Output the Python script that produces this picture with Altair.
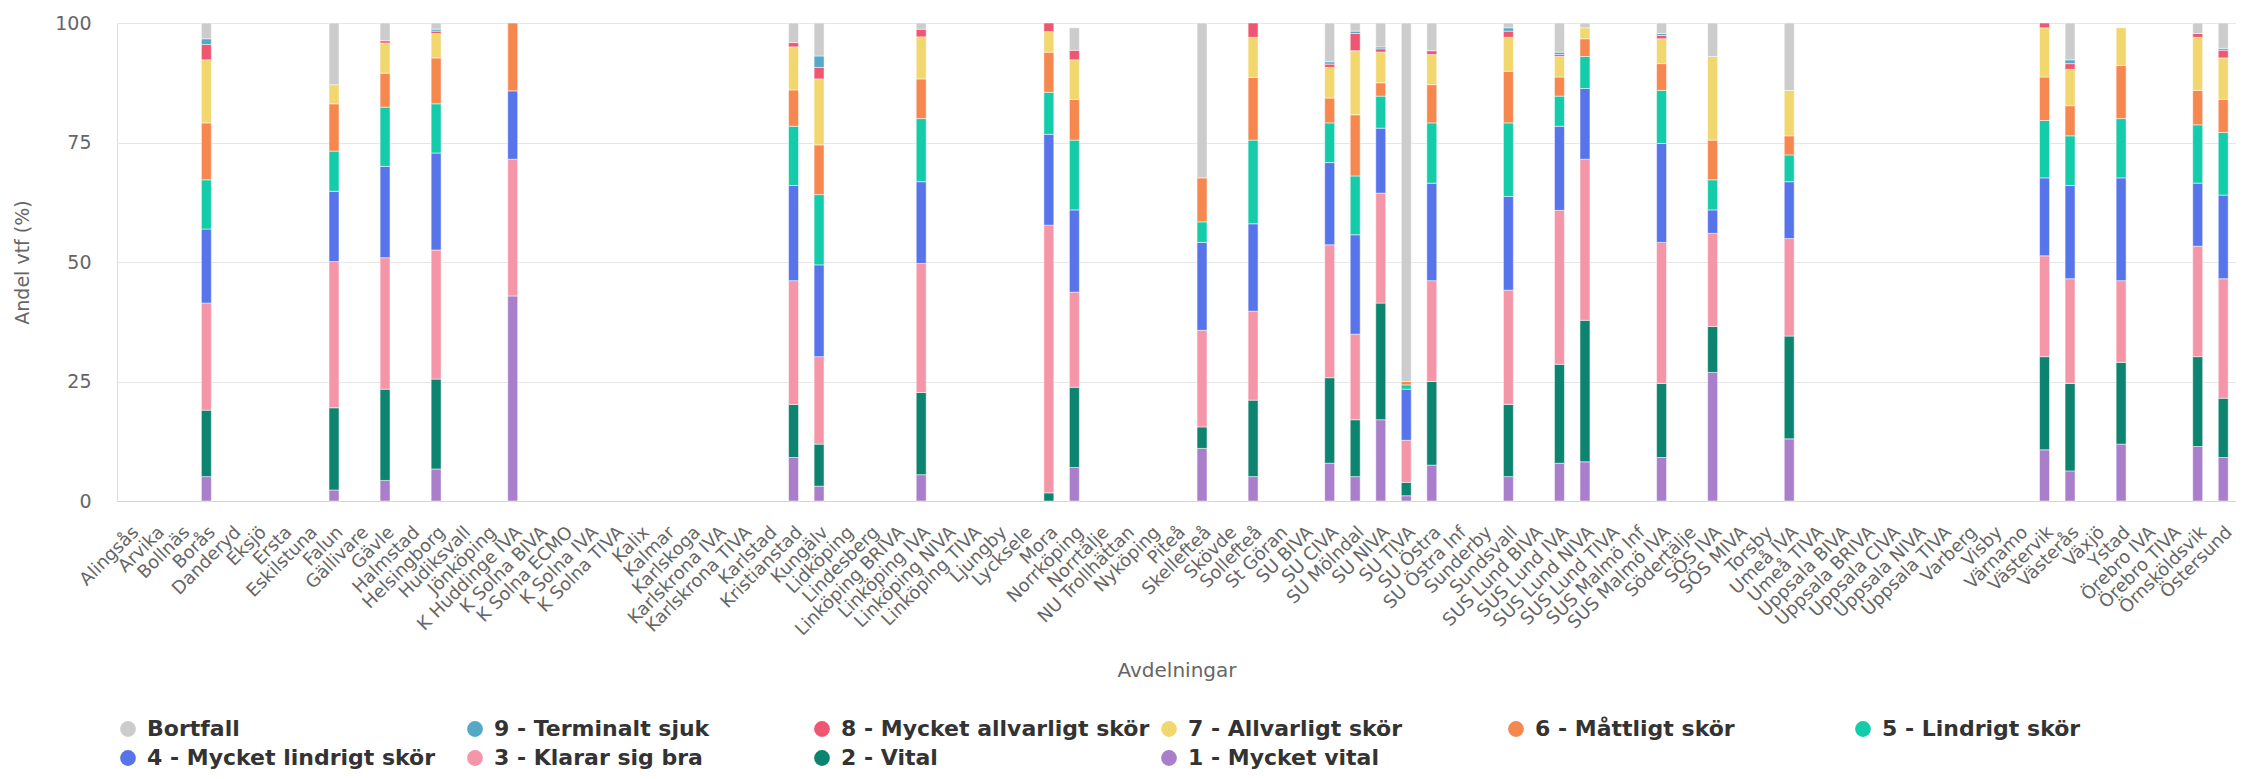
import altair as alt
import pandas as pd

departments = [
    "Alingsås", "Arvika", "Bollnäs", "Borås", "Danderyd", "Eksjö", "Ersta", "Eskilstuna",
    "Falun", "Gällivare", "Gävle", "Halmstad", "Helsingborg", "Hudiksvall", "Jönköping",
    "K Huddinge IVA", "K Solna BIVA", "K Solna ECMO", "K Solna IVA", "K Solna TIVA", "Kalix",
    "Kalmar", "Karlskoga", "Karlskrona IVA", "Karlskrona TIVA", "Karlstad", "Kristianstad",
    "Kungälv", "Lidköping", "Lindesberg", "Linköping BRIVA", "Linköping IVA", "Linköping NIVA",
    "Linköping TIVA", "Ljungby", "Lycksele", "Mora", "Norrköping", "Norrtälje", "NU Trollhättan",
    "Nyköping", "Piteå", "Skellefteå", "Skövde", "Sollefteå", "St Göran", "SU BIVA", "SU CIVA",
    "SU Mölndal", "SU NIVA", "SU TIVA", "SU Östra", "SU Östra Inf", "Sunderby", "Sundsvall",
    "SUS Lund BIVA", "SUS Lund IVA", "SUS Lund NIVA", "SUS Lund TIVA", "SUS Malmö Inf",
    "SUS Malmö IVA", "Södertälje", "SÖS IVA", "SÖS MIVA", "Torsby", "Umeå IVA", "Umeå TIVA",
    "Uppsala BIVA", "Uppsala BRIVA", "Uppsala CIVA", "Uppsala NIVA", "Uppsala TIVA", "Varberg",
    "Visby", "Värnamo", "Västervik", "Västerås", "Växjö", "Ystad", "Örebro IVA", "Örebro TIVA",
    "Örnsköldsvik", "Östersund",
]

# Departments that have reported values (order of the value lists below)
reported = [
    "Borås", "Falun", "Gävle", "Helsingborg", "K Huddinge IVA", "Kristianstad", "Kungälv",
    "Linköping IVA", "Mora", "Norrköping", "Skellefteå", "Sollefteå", "SU CIVA", "SU Mölndal",
    "SU NIVA", "SU TIVA", "SU Östra", "Sundsvall", "SUS Lund IVA", "SUS Lund NIVA",
    "SUS Malmö IVA", "SÖS IVA", "Umeå IVA", "Västervik", "Västerås", "Ystad",
    "Örnsköldsvik", "Östersund",
]

series = [
    "Bortfall", "9 - Terminalt sjuk", "8 - Mycket allvarligt skör", "7 - Allvarligt skör",
    "6 - Måttligt skör", "5 - Lindrigt skör", "4 - Mycket lindrigt skör", "3 - Klarar sig bra",
    "2 - Vital", "1 - Mycket vital",
]
colors = [
    "#cccccc", "#55a8c6", "#ef5671", "#f1d76d", "#f6874f", "#14cca9", "#5874eb", "#f596a8",
    "#0d846f", "#a97ecb",
]

v1 = [5.1, 2.3, 4.3, 6.7, 42.9, 9.1, 3.1, 5.5, 0.0, 7.0, 11.0, 5.1, 7.9, 5.1, 17.0, 1.1, 7.5, 5.1, 7.9, 8.2, 9.1, 26.9, 13.0, 10.7, 6.3, 11.9, 11.4, 9.1]
v2 = [13.9, 17.2, 19.1, 18.8, 0.0, 11.1, 8.8, 17.2, 1.7, 16.8, 4.5, 16.0, 17.9, 11.9, 24.4, 2.8, 17.5, 15.1, 20.7, 29.6, 15.5, 9.6, 21.5, 19.5, 18.3, 17.1, 18.8, 12.4]
v3 = [22.4, 30.6, 27.5, 27.0, 28.6, 25.9, 18.3, 27.0, 56.0, 19.9, 20.2, 18.6, 27.8, 17.9, 23.0, 8.8, 21.1, 23.9, 32.2, 33.7, 29.5, 19.5, 20.4, 21.1, 21.9, 17.1, 23.1, 25.0]
v4 = [15.5, 14.7, 19.1, 20.3, 14.3, 19.9, 19.2, 17.1, 19.0, 17.2, 18.4, 18.3, 17.2, 20.8, 13.6, 10.7, 20.4, 19.6, 17.6, 14.8, 20.7, 4.9, 11.9, 16.3, 19.5, 21.5, 13.2, 17.5]
v5 = [10.3, 8.4, 12.4, 10.3, 0.0, 12.4, 14.7, 13.2, 8.8, 14.6, 4.3, 17.5, 8.3, 12.3, 6.7, 0.9, 12.6, 15.4, 6.3, 6.7, 11.1, 6.3, 5.6, 12.0, 10.4, 12.4, 12.2, 13.1]
v6 = [11.9, 9.9, 7.1, 9.6, 14.2, 7.6, 10.4, 8.3, 8.4, 8.5, 9.2, 13.1, 5.2, 12.8, 2.8, 0.7, 8.0, 10.8, 4.0, 3.7, 5.6, 8.3, 4.0, 9.1, 6.3, 11.1, 7.2, 6.9]
v7 = [13.2, 4.0, 6.3, 5.1, 0.0, 9.0, 13.8, 8.8, 4.3, 8.3, 0.0, 8.4, 6.4, 13.4, 6.4, 0.0, 6.3, 7.1, 4.3, 2.3, 5.2, 17.5, 9.5, 10.3, 7.6, 7.9, 11.1, 8.7]
v8 = [3.2, 0.0, 0.5, 0.5, 0.0, 0.9, 2.4, 1.6, 1.8, 2.0, 0.0, 3.0, 0.7, 3.6, 0.7, 0.0, 0.8, 1.3, 0.4, 0.0, 0.7, 0.0, 0.0, 1.0, 1.2, 0.0, 0.8, 1.6]
v9 = [1.2, 0.0, 0.0, 0.4, 0.0, 0.0, 2.4, 0.0, 0.0, 0.0, 0.0, 0.0, 0.5, 0.5, 0.4, 0.0, 0.0, 0.7, 0.5, 0.0, 0.4, 0.0, 0.0, 0.0, 0.8, 0.0, 0.0, 0.4]
vb = [3.3, 12.9, 3.7, 1.3, 0.0, 4.1, 6.9, 1.3, 0.0, 4.7, 32.4, 0.0, 8.1, 1.7, 5.0, 75.0, 5.8, 1.0, 6.1, 1.0, 2.2, 7.0, 14.1, 0.0, 7.7, 0.0, 2.2, 5.3]

values_by_series = {
    "1 - Mycket vital": v1, "2 - Vital": v2, "3 - Klarar sig bra": v3,
    "4 - Mycket lindrigt skör": v4, "5 - Lindrigt skör": v5, "6 - Måttligt skör": v6,
    "7 - Allvarligt skör": v7, "8 - Mycket allvarligt skör": v8, "9 - Terminalt sjuk": v9,
    "Bortfall": vb,
}

rows = []
for s, vals in values_by_series.items():
    rank = len(series) - series.index(s)  # 1 - Mycket vital at bottom
    for dept, v in zip(reported, vals):
        if v > 0:
            rows.append({"Avdelning": dept, "Kategori": s, "Andel": v, "rank": rank})
df = pd.DataFrame(rows)

chart = (
    alt.Chart(df)
    .mark_bar(width=alt.RelativeBandSize(0.39), stroke="white", strokeWidth=0.5)
    .encode(
        x=alt.X(
            "Avdelning:N",
            sort=departments,
            scale=alt.Scale(domain=departments, paddingInner=0, paddingOuter=0),
            axis=alt.Axis(
                title="Avdelningar",
                labelAngle=-45,
                ticks=False,
                grid=False,
                domainColor="#ccd6eb",
                labelFontSize=18,
                labelColor="#666666",
                labelPadding=22,
                titleFontSize=20,
                titleColor="#666666",
                titleFontWeight="normal",
                titlePadding=22,
                labelOverlap=False,
            ),
        ),
        y=alt.Y(
            "Andel:Q",
            stack="zero",
            scale=alt.Scale(domain=[0, 100], nice=False),
            axis=alt.Axis(
                title="Andel vtf (%)",
                values=[0, 25, 50, 75, 100],
                grid=True,
                gridColor="#e6e6e6",
                domain=False,
                ticks=False,
                labelFontSize=19,
                labelColor="#666666",
                labelPadding=26,
                titleFontSize=19,
                titleColor="#666666",
                titleFontWeight="normal",
                titlePadding=22,
            ),
        ),
        color=alt.Color(
            "Kategori:N",
            scale=alt.Scale(domain=series, range=colors),
            legend=alt.Legend(
                title=None,
                orient="bottom",
                direction="horizontal",
                columns=6,
                symbolType="circle",
                symbolSize=250,
                symbolStrokeWidth=0,
                labelFontSize=22,
                labelFontWeight="bold",
                labelColor="#333333",
                labelLimit=420,
                labelOffset=8,
                columnPadding=8,
                rowPadding=7,
                offset=37,
                gridAlign="all",
            ),
        ),
        order=alt.Order("rank:Q", sort="ascending"),
    )
    .properties(
        width=2119,
        height=478,
        padding={"left": 5, "top": 6, "right": 0, "bottom": 0},
    )
    .configure_view(stroke=None)
    .configure(font="DejaVu Sans")
)

chart.save("out.html", embed_options={"renderer": "svg", "actions": False})
